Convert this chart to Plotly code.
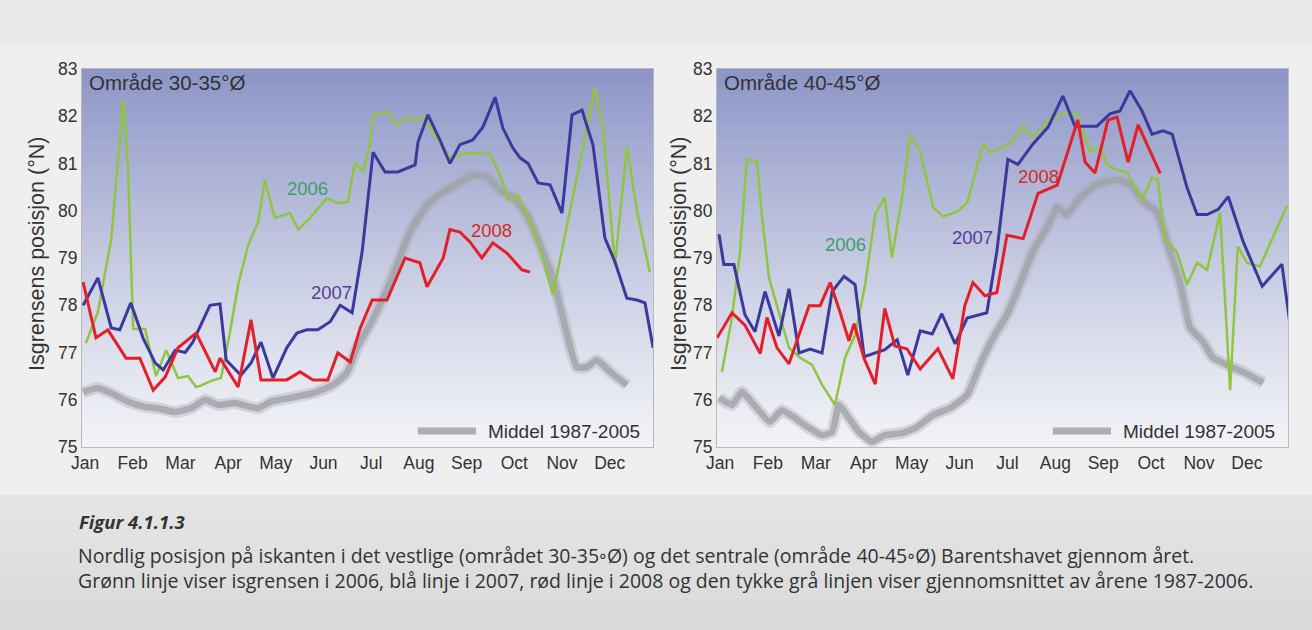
import plotly.graph_objects as go

# ---------------- data (x in months, Jan = 0) ----------------
months = ["Jan", "Feb", "Mar", "Apr", "May", "Jun", "Jul", "Aug", "Sep", "Oct", "Nov", "Dec"]
yticks = [75, 76, 77, 78, 79, 80, 81, 82, 83]

# Område 30-35°Ø
g1_x = [0.02, 0.27, 0.55, 0.69, 0.80, 0.90, 1.01, 1.26, 1.49, 1.70, 1.95, 2.16, 2.33, 2.43, 2.64, 2.85,
        3.04, 3.21, 3.42, 3.63, 3.77, 3.98, 4.30, 4.47, 4.72, 5.07, 5.30, 5.51, 5.66, 5.83, 5.97, 6.04,
        6.33, 6.54, 6.75, 6.96, 7.09, 7.38, 7.65, 8.01, 8.49, 8.70, 8.87, 9.08, 9.33, 9.58, 9.81, 10.69,
        10.86, 11.11, 11.36, 11.59, 11.84]
g1_y = [77.2, 77.86, 79.4, 80.97, 82.35, 80.97, 77.5, 77.5, 76.5, 77.05, 76.46, 76.5, 76.27, 76.3, 76.4, 76.46,
        77.43, 78.43, 79.27, 79.76, 80.65, 79.85, 79.95, 79.6, 79.85, 80.27, 80.16, 80.19, 81.03, 80.82, 81.39, 82.03,
        82.09, 81.81, 81.98, 81.92, 81.98, 81.55, 81.12, 81.22, 81.2, 80.76, 80.23, 80.33, 79.76, 79.06, 78.22, 82.6,
        81.75, 78.85, 81.35, 79.9, 78.7]

b1_x = [-0.04, 0.27, 0.55, 0.73, 0.96, 1.22, 1.47, 1.64, 1.89, 2.10, 2.26, 2.62, 2.83, 2.96, 3.27, 3.48,
        3.69, 3.94, 4.23, 4.44, 4.65, 4.88, 5.14, 5.35, 5.60, 5.81, 6.04, 6.29, 6.56, 6.75, 6.92, 6.98,
        7.19, 7.44, 7.65, 7.86, 8.13, 8.34, 8.60, 8.76, 8.97, 9.12, 9.29, 9.50, 9.75, 10.00, 10.21, 10.42,
        10.65, 10.90, 11.11, 11.36, 11.57, 11.74, 11.91]
b1_y = [78.0, 78.58, 77.52, 77.48, 78.05, 77.3, 76.78, 76.63, 77.05, 77.0, 77.22, 78.0, 78.03, 76.84, 76.52, 76.78,
        77.22, 76.46, 77.1, 77.41, 77.48, 77.48, 77.65, 78.0, 77.84, 79.13, 81.24, 80.82, 80.82, 80.9, 80.97, 81.45,
        82.03, 81.5, 81.0, 81.4, 81.5, 81.77, 82.4, 81.75, 81.33, 81.12, 81.0, 80.59, 80.55, 79.95, 82.03, 82.13,
        81.39, 79.42, 78.92, 78.15, 78.11, 78.05, 77.1]

r1_x = [-0.04, 0.23, 0.48, 0.86, 1.15, 1.43, 1.68, 1.95, 2.33, 2.73, 2.83, 3.21, 3.48, 3.69, 4.23, 4.51,
        4.78, 5.09, 5.30, 5.56, 5.77, 6.02, 6.33, 6.71, 7.02, 7.17, 7.51, 7.65, 7.86, 8.07, 8.32, 8.55,
        8.85, 9.16, 9.33]
r1_y = [78.49, 77.31, 77.48, 76.88, 76.88, 76.2, 76.48, 77.1, 77.41, 76.59, 76.88, 76.27, 77.69, 76.42, 76.42, 76.59,
        76.42, 76.42, 76.99, 76.8, 77.52, 78.11, 78.11, 79.0, 78.9, 78.39, 79.0, 79.6, 79.55, 79.34, 79.0, 79.32,
        79.1, 78.75, 78.7]

m1_x = [-0.04, 0.27, 0.55, 0.90, 1.26, 1.53, 1.89, 2.22, 2.52, 2.79, 3.14, 3.63, 3.90, 4.30, 4.78, 5.20,
        5.49, 5.70, 5.97, 6.25, 6.54, 6.81, 7.17, 7.51, 7.86, 8.13, 8.43, 8.70, 8.97, 9.27, 9.54, 9.81,
        10.02, 10.31, 10.52, 10.73, 11.01, 11.36]
m1_y = [76.16, 76.25, 76.14, 75.96, 75.85, 75.82, 75.74, 75.82, 76.0, 75.89, 75.93, 75.82, 75.96, 76.04, 76.14, 76.31,
        76.57, 77.1, 77.58, 78.15, 78.85, 79.55, 80.12, 80.4, 80.6, 80.76, 80.71, 80.44, 80.29, 79.9, 79.27, 78.58,
        77.73, 76.69, 76.69, 76.84, 76.59, 76.31]

# Område 40-45°Ø
g2_x = [0.04, 0.25, 0.42, 0.56, 0.77, 0.88, 1.02, 1.23, 1.44, 1.67, 1.92, 2.13, 2.40, 2.61, 2.82, 3.03,
        3.24, 3.44, 3.59, 3.80, 3.97, 4.18, 4.45, 4.66, 4.95, 5.16, 5.49, 5.64, 6.05, 6.33, 6.53, 6.83,
        7.16, 7.45, 7.72, 7.93, 8.08, 8.29, 8.50, 8.81, 9.02, 9.14, 9.29, 9.54, 9.75, 9.96, 10.17, 10.44,
        10.65, 10.81, 11.00, 11.27, 11.52, 11.84]
g2_y = [76.59, 77.74, 79.14, 81.09, 81.05, 79.86, 78.59, 77.87, 77.1, 76.89, 76.74, 76.32, 75.89, 76.89, 77.37, 78.44,
        79.93, 80.28, 79.01, 80.28, 81.6, 81.26, 80.07, 79.88, 79.98, 80.17, 81.41, 81.24, 81.41, 81.79, 81.56, 81.9,
        82.05, 82.05, 81.26, 81.37, 80.96, 80.87, 80.81, 80.23, 80.7, 80.66, 79.39, 79.12, 78.44, 78.9, 78.75, 79.96,
        76.2, 79.24, 78.9, 78.82, 79.39, 80.11]

b2_x = [-0.02, 0.08, 0.29, 0.52, 0.73, 0.94, 1.23, 1.44, 1.65, 1.88, 2.13, 2.34, 2.59, 2.82, 3.01, 3.44,
        3.70, 3.92, 4.18, 4.43, 4.63, 4.91, 5.16, 5.57, 5.78, 6.01, 6.22, 6.53, 6.85, 7.16, 7.41, 7.87,
        8.14, 8.35, 8.56, 8.81, 9.02, 9.25, 9.44, 9.75, 9.96, 10.17, 10.40, 10.61, 10.92, 11.32, 11.73, 11.90]
b2_y = [79.5, 78.86, 78.86, 77.8, 77.44, 78.29, 77.35, 78.35, 76.99, 77.07, 76.99, 78.29, 78.61, 78.44, 76.91, 77.06,
        77.27, 76.52, 77.46, 77.39, 77.82, 77.18, 77.73, 77.84, 79.14, 81.09, 80.98, 81.41, 81.77, 82.43, 81.79, 81.79,
        82.05, 82.11, 82.54, 82.11, 81.62, 81.69, 81.62, 80.49, 79.92, 79.92, 80.03, 80.3, 79.35, 78.4, 78.87, 77.6]

r2_x = [-0.06, 0.25, 0.52, 0.84, 0.98, 1.19, 1.44, 1.67, 1.86, 2.09, 2.30, 2.51, 2.69, 2.80, 3.01, 3.24,
        3.44, 3.65, 3.90, 4.18, 4.55, 4.86, 5.11, 5.28, 5.53, 5.78, 5.99, 6.33, 6.64, 7.04, 7.47, 7.62,
        7.83, 8.10, 8.29, 8.52, 8.73, 9.19]
r2_y = [77.31, 77.84, 77.58, 76.98, 77.74, 77.1, 76.76, 77.42, 77.99, 77.99, 78.48, 77.84, 77.25, 77.61, 76.87, 76.33,
        77.93, 77.14, 77.08, 76.65, 77.08, 76.44, 77.99, 78.48, 78.2, 78.27, 79.48, 79.41, 80.37, 80.54, 81.92, 81.03,
        80.8, 81.92, 81.98, 81.03, 81.82, 80.79]

m2_x = [-0.02, 0.25, 0.46, 0.71, 1.04, 1.29, 1.57, 1.86, 2.13, 2.34, 2.48, 2.69, 2.90, 3.17, 3.44, 3.82,
        4.11, 4.45, 4.80, 5.16, 5.43, 5.70, 5.99, 6.26, 6.53, 6.83, 7.04, 7.24, 7.52, 7.87, 8.29, 8.56,
        8.83, 9.12, 9.39, 9.60, 9.81, 10.08, 10.29, 10.58, 10.92, 11.34]
m2_y = [76.04, 75.89, 76.17, 75.89, 75.53, 75.78, 75.61, 75.4, 75.25, 75.32, 75.89, 75.61, 75.32, 75.11, 75.25, 75.3,
        75.42, 75.68, 75.82, 76.1, 76.74, 77.31, 77.8, 78.44, 79.14, 79.65, 80.07, 79.92, 80.28, 80.56, 80.66, 80.56,
        80.2, 79.98, 79.14, 78.5, 77.53, 77.23, 76.89, 76.74, 76.59, 76.36]

panel_titles = ["Område 30-35°Ø", "Område 40-45°Ø"]
legend_text = "Middel 1987-2005"
ylabel = "Isgrensens posisjon (°N)"
year_labels = ["2006", "2007", "2008"]
label_pos_1 = [(4.67, 80.48), (5.16, 78.28), (8.53, 79.59)]
label_pos_2 = [(2.61, 79.28), (5.28, 79.43), (6.64, 80.73)]

caption_title = "Figur 4.1.1.3"
caption_l1 = "Nordlig posisjon på iskanten i det vestlige (området 30-35◦Ø) og det sentrale (område 40-45◦Ø) Barentshavet gjennom året."
caption_l2 = "Grønn linje viser isgrensen i 2006, blå linje i 2007, rød linje i 2008 og den tykke grå linjen viser gjennomsnittet av årene 1987-2006."

# ---------------- styling ----------------
W, H = 1312, 630
GREEN = "#8fc640"
BLUE = "#3b3a9c"
RED = "#e3202a"
TXT = "#333333"
AXFONT = "Liberation Sans, Arial, sans-serif"

fig = go.Figure()

def add_panel(xa, ya, mx, my, gx, gy, bx, by, rx, ry):
    fig.add_trace(go.Scatter(x=mx, y=my, xaxis=xa, yaxis=ya, mode="lines",
                             line=dict(color="rgba(165,167,173,0.35)", width=12, shape="spline", smoothing=0.4),
                             hoverinfo="skip", showlegend=False))
    fig.add_trace(go.Scatter(x=mx, y=my, xaxis=xa, yaxis=ya, mode="lines",
                             line=dict(color="rgba(160,162,168,0.8)", width=6.5, shape="spline", smoothing=0.4),
                             showlegend=False))
    fig.add_trace(go.Scatter(x=gx, y=gy, xaxis=xa, yaxis=ya, mode="lines",
                             line=dict(color=GREEN, width=2.5), showlegend=False))
    fig.add_trace(go.Scatter(x=bx, y=by, xaxis=xa, yaxis=ya, mode="lines",
                             line=dict(color=BLUE, width=3), showlegend=False))
    fig.add_trace(go.Scatter(x=rx, y=ry, xaxis=xa, yaxis=ya, mode="lines",
                             line=dict(color=RED, width=3), showlegend=False))

add_panel("x", "y", m1_x, m1_y, g1_x, g1_y, b1_x, b1_y, r1_x, r1_y)
add_panel("x2", "y2", m2_x, m2_y, g2_x, g2_y, b2_x, b2_y, r2_x, r2_y)

ydom = [1 - 447 / H, 1 - 69 / H]
xd1 = [82 / W, 653 / W]
xd2 = [717 / W, 1288 / W]

axis_common = dict(showgrid=False, zeroline=False, showline=True, mirror=True, automargin=False,
                   linecolor="#b9b9bd", linewidth=1, ticks="",
                   tickfont=dict(family=AXFONT, size=17.5, color=TXT))
fig.update_layout(
    width=W, height=H, autosize=False,
    margin=dict(l=0, r=0, t=0, b=0, pad=0),
    paper_bgcolor="#e9e9e9",
    plot_bgcolor="rgba(0,0,0,0)",
    xaxis=dict(domain=xd1, range=[-0.063, 11.908], tickvals=list(range(12)), ticktext=months,
               anchor="y", **axis_common),
    yaxis=dict(domain=ydom, range=[75, 83], tickvals=yticks, anchor="x", **axis_common),
    xaxis2=dict(domain=xd2, range=[-0.063, 11.858], tickvals=list(range(12)), ticktext=months,
                anchor="y2", **axis_common),
    yaxis2=dict(domain=ydom, range=[75, 83], tickvals=yticks, anchor="x2", **axis_common),
)

shapes = []
shapes.append(dict(type="rect", xref="paper", yref="paper", x0=0, x1=1, y0=1 - 495 / H, y1=1 - 45 / H,
                   fillcolor="#efefef", line=dict(width=0), layer="below"))
nb = 20
for i in range(nb):
    t = i / (nb - 1)
    c = tuple(int(round(a + (b - a) * t)) for a, b in zip((228, 229, 228), (216, 217, 216)))
    y1 = 1 - (495 + i * 135 / nb) / H
    y0 = 1 - (495 + (i + 1) * 135 / nb) / H
    shapes.append(dict(type="rect", xref="paper", yref="paper", x0=0, x1=1, y0=y0, y1=y1,
                       fillcolor="rgb(%d,%d,%d)" % c, line=dict(width=0), layer="below"))

top_c = (141, 149, 198)
bot_c = (242, 243, 247)
n = 48
for ax in ("x", "x2"):
    ya = "y" if ax == "x" else "y2"
    for i in range(n):
        t = (i + 0.5) / n
        f = t ** 1.15
        c = tuple(int(round(b + (a - b) * f)) for a, b in zip(top_c, bot_c))
        shapes.append(dict(type="rect", xref=ax + " domain", yref=ya + " domain",
                           x0=0, x1=1, y0=i / n, y1=(i + 1) / n + 0.002,
                           fillcolor="rgb(%d,%d,%d)" % c, line=dict(width=0), layer="below"))
    shapes.append(dict(type="line", xref=ax + " domain", yref=ya + " domain",
                       x0=0.588, x1=0.69, y0=0.042, y1=0.042,
                       line=dict(color="rgba(160,162,168,0.85)", width=7)))
fig.update_layout(shapes=shapes)

ann = []
for ax, ya, title in (("x", "y", panel_titles[0]), ("x2", "y2", panel_titles[1])):
    ann.append(dict(xref=ax + " domain", yref=ya + " domain", x=0.008, y=1.0, xanchor="left", yanchor="top",
                    text=title, showarrow=False, font=dict(family=AXFONT, size=20.5, color=TXT)))
    ann.append(dict(xref=ax + " domain", yref=ya + " domain", x=0.707, y=0.042, xanchor="left", yanchor="middle",
                    text=legend_text, showarrow=False, font=dict(family=AXFONT, size=19, color=TXT)))

label_colors = ["#3c9c6c", "#5a3b98", "#d22a2a"]
for ax, ya, poss in (("x", "y", label_pos_1), ("x2", "y2", label_pos_2)):
    for lab, (lx, ly), col in zip(year_labels, poss, label_colors):
        ann.append(dict(xref=ax, yref=ya, x=lx, y=ly, text=lab, showarrow=False,
                        xanchor="center", yanchor="middle",
                        font=dict(family=AXFONT, size=18.5, color=col)))

for xp in (37, 679):
    ann.append(dict(xref="paper", yref="paper", x=xp / W, y=1 - 254 / H, text=ylabel, textangle=-90,
                    xanchor="center", yanchor="middle",
                    showarrow=False, font=dict(family=AXFONT, size=21.5, color=TXT)))

CAP = "Open Sans, Lato, sans-serif"
ann.append(dict(xref="paper", yref="paper", x=77 / W, y=1 - 521 / H, xanchor="left", yanchor="middle",
                text="<b><i>" + caption_title + "</i></b>", showarrow=False,
                font=dict(family=CAP, size=18.5, color=TXT)))
ann.append(dict(xref="paper", yref="paper", x=76 / W, y=1 - 555 / H, xanchor="left", yanchor="middle",
                text=caption_l1, showarrow=False, font=dict(family=CAP, size=19.5, color=TXT)))
ann.append(dict(xref="paper", yref="paper", x=76 / W, y=1 - 580 / H, xanchor="left", yanchor="middle",
                text=caption_l2, showarrow=False, font=dict(family=CAP, size=19.5, color=TXT)))
fig.update_layout(annotations=ann)

fig.write_html("out.html", config={"displayModeBar": False},
               post_script="document.body.style.margin='0';document.body.style.overflow='hidden';")
